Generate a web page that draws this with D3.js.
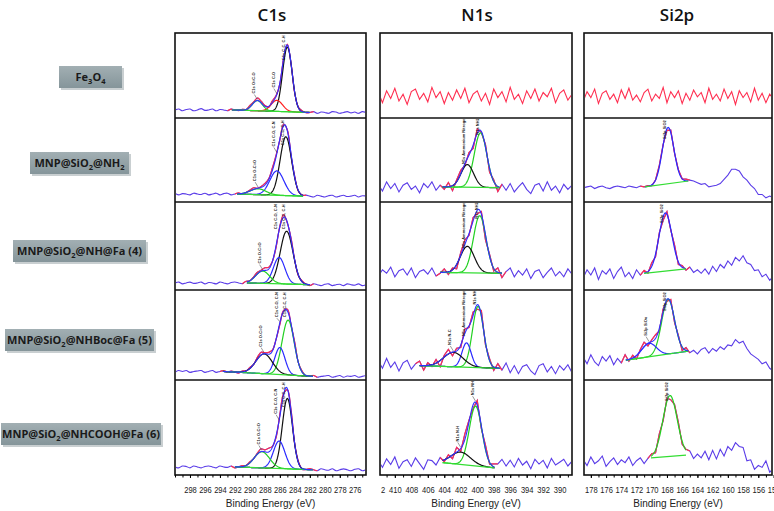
<!DOCTYPE html>
<html><head><meta charset="utf-8">
<script src="https://cdn.jsdelivr.net/npm/d3@7"></script>
<style>body{margin:0;background:#fff}svg{display:block}</style>
</head><body><svg id="c" width="774" height="511"></svg>
<script>
// ---------------- DATA ----------------
const columnTitles = ["C1s", "N1s", "Si2p"];
const sampleNames = ["Fe_3O_4", "MNP@SiO_2@NH_2", "MNP@SiO_2@NH@Fa (4)", "MNP@SiO_2@NHBoc@Fa (5)", "MNP@SiO_2@NHCOOH@Fa (6)"];
const axisTitle = "Binding Energy (eV)";

const c1sTicks = [298,296,294,292,290,288,286,284,282,280,278,276];
const n1sTicks = [412,410,408,406,404,402,400,398,396,394,392,390];
const si2pTicks = [178,176,174,172,170,168,166,164,162,160,158,156,154];

// binding-energy sampling of the measured spectra
const c1sEnergy = [300,299.5,299,298.5,298,297.5,297,296.5,296,295.5,295,294.5,294,293.5,293,292.5,292,291.5,291,290.5,290,289.5,289,288.5,288,287.5,287,286.5,286,285.5,285,284.5,284,283.5,283,282.5,282,281.5,281,280.5,280,279.5,279,278.5,278,277.5,277,276.5,276,275.5,275,274.5];
const n1sEnergy = [412,411.5,411,410.5,410,409.5,409,408.5,408,407.5,407,406.5,406,405.5,405,404.5,404,403.5,403,402.5,402,401.5,401,400.5,400,399.5,399,398.5,398,397.5,397,396.5,396,395.5,395,394.5,394,393.5,393,392.5,392,391.5,391,390.5,390,389.5,389,388.5];
const si2pEnergy = [179,178.5,178,177.5,177,176.5,176,175.5,175,174.5,174,173.5,173,172.5,172,171.5,171,170.5,170,169.5,169,168.5,168,167.5,167,166.5,166,165.5,165,164.5,164,163.5,163,162.5,162,161.5,161,160.5,160,159.5,159,158.5,158,157.5,157,156.5,156,155.5,155,154.5,154];

// fitted peaks: [binding energy, height, FWHM, label]
const c1sPeaks1 = [[285.0,76,1.5,"C1s C-C, C-H"],[286.4,13,1.8,"C1s C-O"],[289.0,12,1.6,"C1s O=C-O"]];
const c1sPeaks2 = [[285.2,70,1.8,"C1s C-C, C-H"],[286.4,29,2.2,"C1s C-O, C-N"],[288.9,7,2.5,"C1s O-C=O"]];
const c1sPeaks3 = [[285.1,60,2.0,"C1s C-C, C-H"],[286.1,30,1.8,"C1s C-O, C-N"],[288.3,14,2.2,"C1s O-C=O"]];
const c1sPeaks4 = [[284.9,61,1.9,"C1s C-C, C-H"],[286.0,30,1.6,"C1s C-O, C-N"],[288.1,22,2.6,"C1s O-C=O"]];
const c1sPeaks5 = [[285.0,74,1.6,"C1s C-C, C-H"],[286.1,29,1.8,"C1s C-O, C-N"],[288.4,17,2.4,"C1s O-C=O"]];
const n1sPeaks1 = [];
const n1sPeaks2 = [[399.6,65,1.8,"N1s NH2"],[401.2,27,1.8,"N1s Ammonium Nitrogen"]];
const n1sPeaks3 = [[399.7,65,1.8,"N1s NH2"],[401.2,30,2.0,"N1s Ammonium Nitrogen"]];
const n1sPeaks4 = [[399.9,68,1.6,"N1s NH"],[401.3,27,1.3,"N1s Ammonium Nitrogen"],[402.9,16,2.8,"N1s N-C"]];
const n1sPeaks5 = [[400.2,63,1.8,"N1s NH"],[402.0,13,2.8,"N1s N-H"]];
const si2pPeaks1 = [];
const si2pPeaks2 = [[167.85,67,1.8,"Si2p SiO2"]];
const si2pPeaks3 = [[168.2,66,2.0,"Si2p SiO2"]];
const si2pPeaks4 = [[167.85,61,2.0,"Si2p SiO2"],[170.35,15,2.3,"Si2p SiOx"]];
const si2pPeaks5 = [[167.6,64,2.2,"Si2p SiO2"]];

// linear backgrounds: [start energy, level, end energy, level]
const c1sBase1 = [292.4,9.5,282.0,6.5];
const c1sBase2 = [291.7,9.5,282.9,7];
const c1sBase3 = [290.4,8,282.0,6];
const c1sBase4 = [293.6,9.5,281.6,4];
const c1sBase5 = [292.0,8.5,281.6,5.5];
const n1sBase1 = [412,26,388.5,26];
const n1sBase2 = [404.2,18,397.3,17];
const n1sBase3 = [404.5,20,397.0,19];
const n1sBase4 = [407.0,16,397.3,13];
const n1sBase5 = [404.2,13,397.9,7.5];
const si2pBase1 = [179,26,154,26];
const si2pBase2 = [170.9,18,165.2,25];
const si2pBase3 = [171.0,19,165.5,24];
const si2pBase4 = [173.4,22,165.2,32];
const si2pBase5 = [170.1,18,165.5,21];

const c1sResid1 = [0,1,-1,0.5,1,-1,0,1.5,-0.5,0,1,-1,0.5,0,-1,1, 0,-0.5,1,0,2,1,3,2,1,-1,2,1,-1,0,1,0, -1,0.5,1,-0.5,0,1,-1,0.5,0,-1,1,0.5,-1,0,1,-0.5,0.5,-1,1,0];
const c1sResid2 = [1,-1,0.5,0,-1,1,0,-0.5,1,-1,0,1,-1,0.5,1,-1, 0,1,-1,0,1,2,0,1,2,1,3,2,-1,2,1,-2,1,-1,0,1,0, -1,1,0,-1,0.5,1,-1,0,1,-0.5,0,1,-1,0.5,0];
const c1sResid3 = [0,1,-1,0,1,-0.5,0,1,-1,0.5,0,-1,1,0,-1,0.5, 1,0,-1,1,0,1,2,1,3,2,0,-2,1,3,-1,2,0,-1,1,0,-1, 1,0,-1,0.5,1,-1,0,0.5,-1,1,0,-0.5,1,-1,0];
const c1sResid4 = [-1,1,0,1,-1,0,0.5,1,-1,0,1,-1,0,1,-0.5,1, 0,-1,1,0,1,0,2,3,1,2,1,0,-2,1,2,-1,3,0,1,-1,0, 1,-1,0,0.5,1,-1,0,1,-1,0.5,0,1,-1,0,1];
const c1sResid5 = [0,-1,1,0.5,-1,1,0,-1,0.5,1,0,-1,1,0,-0.5,1, -1,0,1,0,1,0,1,3,2,4,1,-2,2,1,-1,2,0,1,-1,0,1, 0,-1,1,0,-0.5,1,-1,0,1,0,-1,0.5,1,-1,0];
const n1sResid1 = [4,-8,6,-3,9,-6,2,-10,5,8,-4,3,-7,10,-2,5,-9,4,-5,7,-3,9,-8,2,6,-6,3,-10,8,-2,5,-7,10,-4,2,-9,6,-3,8,-6,4,-1,9,-8,3,7,-5,2];
const n1sResid2 = [3,-5,6,-2,4,-6,2,5,-3,1,-7,4,-1,6,-4,2, -3,5,-6,2,4,-2,3,-4,5,-1,3,-5,2,-6, 4,-3,5,-5,1,6,-2,-7,3,5,-4,7,-3,2,-6,4,-2,3];
const n1sResid3 = [-4,3,-1,6,-5,2,4,-3,5,-6,1,3,-2,5,-4,-1, 4,-3,2,-5,3,5,-2,4,-4,3,-6,2,-3,5, -5,2,6,-4,3,-2,5,-6,2,4,-5,1,6,-3,2,-4,5,-1];
const n1sResid4 = [5,-3,8,-2,4,-6,3,6,-4,2, 5,-5,3,-2,4,-7,2,5,-4,3,-3,5,-2,4,-5,6,-3,2,-4,5, -2,6,-5,3,-6,2,4,-3,-7,3,5,-4,2,-6,3,-2,4,-5];
const n1sResid5 = [2,-5,4,-2,6,-6,1,3,-4,5,-1,-7,3,2,-3,4, -2,3,-4,5,-3,6,2,-4,5,-3,4,-2,3, 4,9,2,8,1,10,3,7,-1,9,4,8,0,10,3,6,9,2,7];
const si2pResid1 = [-6,5,-2,8,-9,3,6,-4,2,-8,7,-3,9,-5,1,-7,4,8,-6,2,-3,10,-8,5,-2,6,-9,3,-5,7,-1,4,-8,9,-4,2,-6,8,-3,5,-10,6,-2,4,-7,9,-5,3,-8,2,-4];
const si2pResid2 = [-1,0,1,-2,0,1,-1,-2,0,1,0,-1,1,0,-1,1,0, 1,-1,0,2,1,-2,3,-1,1,0,2,1, 0,-2,-4,-3,-7,-6,-5,-3,2,7,14,14,12,5,1,-5,-9,-16,-16,-20,-18,-20];
const si2pResid3 = [-5,4,-2,6,-7,3,-1,5,-6,2,7,-4,1,-6,4,-2, 3,-2,4,-3,2,-4,3,-1,4,-3,2,-2, 2,-4,-1,-5,0,-6,3,-3,5,1,9,4,13,9,15,7,5,-2,-1,-9,-6,-13,-8];
const si2pResid4 = [3,-4,6,-2,-6,4,-1,5,-5,2,-3,6, -2,3,-4,2,5,-3,2,4,-3,3,-2,4,-3,2,-4,3,-2, 1,-3,2,4,-2,3,0,5,2,7,6,13,9,11,3,-3,-6,-9,-14,-12,-19,-22];
const si2pResid5 = [-2,-8,1,-6,-3,2,-9,-4,0,-7,-2,-5,1,-8,-3,0,-6,-1, 2,-3,4,-2,3,-4,2,3,-3,1, 3,-4,1,-3,4,-5,5,-4,6,-1,9,5,13,9,8,-6,-5,-15,-11,-13,-6,-18,-14];

// ---------------- STYLE / LAYOUT ----------------
const K = "#111111", R = "#ff2020", G = "#22d022", B = "#2a2aff";
const compColors = [
  [[K,R,G],[K,B,G],[K,B,G],[G,B,K],[K,B,G]],
  [[],[G,K],[G,K],[G,B,K],[G,K]],
  [[],[B],[B],[G,B],[G]]
];
const RAW_BLUE = "#5a3ce8", RAW_RED = "#ff2e50", ENV = "#3030ff", BASE_G = "#33dd33";
const colX = [[175,366],[380,572],[584,772]];
const colDomain = [[300,274.5],[411.8,388.5],[178.9,154.2]];
const rowY = [33,118,202,290,380,475];
const tickSets = [c1sTicks, n1sTicks, si2pTicks];
const energies = [c1sEnergy, n1sEnergy, si2pEnergy];
const peakSets = [[c1sPeaks1,c1sPeaks2,c1sPeaks3,c1sPeaks4,c1sPeaks5],[n1sPeaks1,n1sPeaks2,n1sPeaks3,n1sPeaks4,n1sPeaks5],[si2pPeaks1,si2pPeaks2,si2pPeaks3,si2pPeaks4,si2pPeaks5]];
const baseSets = [[c1sBase1,c1sBase2,c1sBase3,c1sBase4,c1sBase5],[n1sBase1,n1sBase2,n1sBase3,n1sBase4,n1sBase5],[si2pBase1,si2pBase2,si2pBase3,si2pBase4,si2pBase5]];
const residSets = [[c1sResid1,c1sResid2,c1sResid3,c1sResid4,c1sResid5],[n1sResid1,n1sResid2,n1sResid3,n1sResid4,n1sResid5],[si2pResid1,si2pResid2,si2pResid3,si2pResid4,si2pResid5]];
const labelBoxes = [[59,66,63,22],[30,152,99,22],[13,240,133,22],[5,329,149,22],[1,423,160,22]];

// ---------------- DRAW ----------------
const svg = d3.select("#c");
const defs = svg.append("defs");
const grad = defs.append("linearGradient").attr("id","boxg").attr("x1",0).attr("y1",0).attr("x2",0).attr("y2",1);
grad.append("stop").attr("offset","0%").attr("stop-color","#a2afb3");
grad.append("stop").attr("offset","100%").attr("stop-color","#85959a");

const k4 = 4*Math.LN2;
const gauss = (E,p) => { const d=(E-p[0])/p[2]; return p[1]*Math.exp(-k4*d*d); };
const baseAt = (E,b) => E>=b[0] ? b[1] : (E<=b[2] ? b[3] : b[1]+(b[3]-b[1])*(b[0]-E)/(b[0]-b[2]));

for (let c=0;c<3;c++){
  const [x0,x1] = colX[c];
  const x = d3.scaleLinear().domain(colDomain[c]).range([x0,x1]);
  for (let r=0;r<5;r++){
    const top=rowY[r], bot=rowY[r+1];
    const y = d3.scaleLinear().domain([0,100]).range([bot,top]);
    const peaks=peakSets[c][r], base=baseSets[c][r], resid=residSets[c][r], cols=compColors[c][r];
    const model = E => baseAt(E,base)+d3.sum(peaks,p=>gauss(E,p));
    const id=`cl${c}${r}`;
    defs.append("clipPath").attr("id",id).append("rect").attr("x",x0+1).attr("y",top+1).attr("width",x1-x0-2).attr("height",bot-top-2);
    const g = svg.append("g").attr("clip-path",`url(#${id})`);
    const raw = energies[c].map((E,i)=>[E, model(E)+resid[i]]);
    const line = d3.line().x(d=>x(d[0])).y(d=>y(d[1])).curve(c===0?d3.curveCatmullRom:d3.curveLinear);
    const fitted = peaks.length>0;
    g.append("path").attr("d",line(raw)).attr("fill","none").attr("stroke",fitted?RAW_BLUE:RAW_RED).attr("stroke-width",1.1);
    if(!fitted) continue;
    const win = raw.filter(d=>d[0]<=base[0]+0.6 && d[0]>=base[2]-0.6);
    g.append("path").attr("d",line(win)).attr("fill","none").attr("stroke",RAW_RED).attr("stroke-width",1.2);
    const fine = d3.range(base[2], base[0]+1e-9, 0.05);
    const sl = d3.line().x(d=>x(d[0])).y(d=>y(d[1]));
    peaks.forEach((p,i)=>{
      g.append("path").attr("d",sl(fine.map(E=>[E,baseAt(E,base)+gauss(E,p)]))).attr("fill","none").attr("stroke",cols[i]).attr("stroke-width",1.2);
    });
    g.append("line").attr("x1",x(base[0])).attr("y1",y(base[1])).attr("x2",x(base[2])).attr("y2",y(base[3])).attr("stroke",BASE_G).attr("stroke-width",1.2);
    if(peaks.length>1){
      g.append("path").attr("d",sl(fine.map(E=>[E,model(E)]))).attr("fill","none").attr("stroke",ENV).attr("stroke-width",1.1);
    }
    // peak labels
    peaks.forEach(p=>{
      const px=x(p[0]), pe=y(model(p[0]));
      const L=p[3].length*2.1;
      let tb=pe-7;
      if(tb-L<top+2) tb=top+2+L;
      const tx=px-2;
      if(tb<pe-2) g.append("line").attr("x1",tx-1).attr("y1",tb+1).attr("x2",px).attr("y2",pe-1).attr("stroke","#333").attr("stroke-width",0.5);
      g.append("text").attr("transform",`translate(${tx},${tb}) rotate(-90)`).attr("font-size",4).attr("font-weight","bold")
        .attr("font-family","Liberation Sans, Arial, sans-serif").attr("fill","#222").text(p[3]);
    });
  }
  // frame
  svg.append("rect").attr("x",x0).attr("y",rowY[0]).attr("width",x1-x0).attr("height",rowY[5]-rowY[0]).attr("fill","none").attr("stroke","#111").attr("stroke-width",1.6);
  for(let r=1;r<5;r++) svg.append("line").attr("x1",x0).attr("x2",x1).attr("y1",rowY[r]).attr("y2",rowY[r]).attr("stroke","#111").attr("stroke-width",1.6);
  // axes
  const aid=`ax${c}`;
  const clipL = [170,381,585][c], clipR=[372,578,774][c];
  defs.append("clipPath").attr("id",aid).append("rect").attr("x",clipL).attr("y",470).attr("width",clipR-clipL).attr("height",30);
  const ag = svg.append("g").attr("clip-path",`url(#${aid})`);
  const dm = colDomain[c];
  const minor = d3.range(Math.ceil(dm[1]), Math.floor(dm[0])+1, 1);
  ag.append("g").attr("transform",`translate(0,${rowY[5]})`).call(d3.axisBottom(x).tickValues(minor).tickSize(2.5).tickFormat(""))
    .call(s=>s.select(".domain").remove());
  ag.append("g").attr("transform",`translate(0,${rowY[5]})`).call(d3.axisBottom(x).tickValues(tickSets[c]).tickSize(3).tickPadding(8).tickFormat(d3.format("d")))
    .call(s=>{s.select(".domain").remove(); s.selectAll("text").attr("font-size",9.5).attr("font-family","Liberation Sans, Arial, sans-serif").attr("fill","#222")
      .attr("textLength",12.6).attr("lengthAdjust","spacingAndGlyphs");});
  svg.append("text").attr("x",(x0+x1)/2).attr("y",507).attr("text-anchor","middle").attr("font-size",10)
    .attr("font-family","Liberation Sans, Arial, sans-serif").attr("fill","#222").text(axisTitle);
  svg.append("text").attr("x",[272,477,677][c]).attr("y",21).attr("text-anchor","middle").attr("font-size",17).attr("font-weight",600)
    .attr("font-family","Open Sans, sans-serif").attr("fill","#111").text(columnTitles[c]);
}

// sample label boxes
sampleNames.forEach((nm,i)=>{
  const [bx,by,bw,bh]=labelBoxes[i];
  svg.append("rect").attr("x",bx+2).attr("y",by+2).attr("width",bw).attr("height",bh).attr("fill","#c9cfd1");
  svg.append("rect").attr("x",bx).attr("y",by).attr("width",bw).attr("height",bh).attr("fill","url(#boxg)");
  const t=svg.append("text").attr("x",bx+bw/2).attr("y",by+bh/2+4).attr("text-anchor","middle").attr("font-size",11).attr("font-weight","bold")
    .attr("font-family","Open Sans, sans-serif").attr("fill","#1a1a1a");
  const parts = nm.split(/_(\d)/);
  parts.forEach((s,j)=>{
    if(!s) return;
    if(j%2===1) t.append("tspan").attr("dy",3).attr("font-size",7.5).text(s);
    else t.append("tspan").attr("dy", j>0?-3:0).text(s);
  });
});
</script>
</body></html>
